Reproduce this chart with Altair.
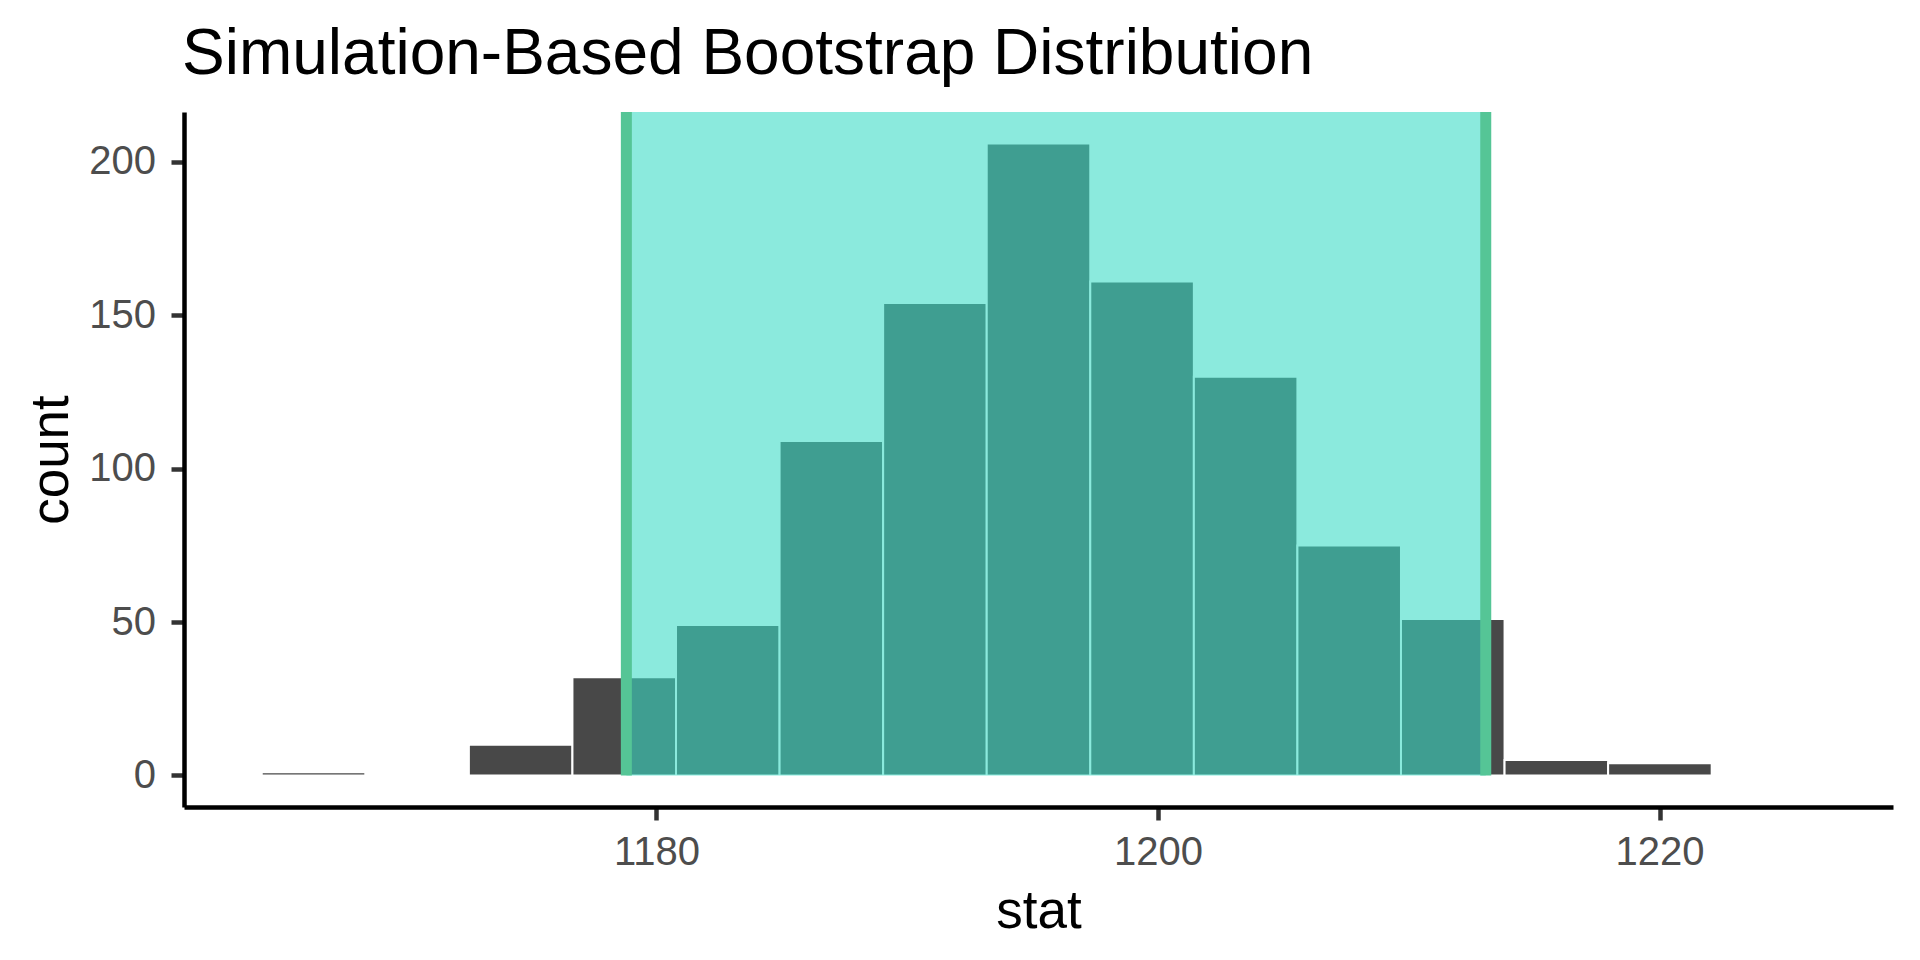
import altair as alt
import pandas as pd

# Histogram bins (stat) and counts
bin_start = [1164.26, 1168.39, 1172.52, 1176.65, 1180.78, 1184.91, 1189.04, 1193.17,
             1197.30, 1201.43, 1205.56, 1209.69, 1213.82, 1217.95, 1222.08]
bin_end = [1168.39, 1172.52, 1176.65, 1180.78, 1184.91, 1189.04, 1193.17, 1197.30,
           1201.43, 1205.56, 1209.69, 1213.82, 1217.95, 1222.08, 1226.21]
counts = [1, 0, 10, 32, 49, 109, 154, 206, 161, 130, 75, 51, 5, 4, 0]

# Confidence interval bounds
ci_bounds = [1178.80, 1213.07]

x_ticks = [1180, 1200, 1220]
y_ticks = [0, 50, 100, 150, 200]

title_text = "Simulation-Based Bootstrap Distribution"

hist_df = pd.DataFrame({"start": bin_start, "end": bin_end, "count": counts})
ci_df = pd.DataFrame({"lower": [ci_bounds[0]], "upper": [ci_bounds[1]]})
ci_lines = pd.DataFrame({"bound": ci_bounds})

FONT = "Liberation Sans"
W, H = 1709, 695

xscale = alt.Scale(domain=[1161.16, 1229.31], nice=False, zero=False)
yscale = alt.Scale(domain=[-10.3, 216.3], nice=False, zero=False)

xaxis = alt.Axis(
    values=x_ticks, format="d", grid=False,
    domainColor="black", domainWidth=4.5,
    tickColor="#333333", tickWidth=4.5, tickSize=13,
    labelFont=FONT, labelFontSize=40, labelColor="#4D4D4D",
    labelBaseline="alphabetic", labelPadding=44.5, labelFlush=False,
    titleFont=FONT, titleFontSize=53, titleColor="black", titleFontWeight="normal",
    titleBaseline="alphabetic", titleX=W / 2, titleY=120, titleAlign="center",
)
yaxis = alt.Axis(
    values=y_ticks, format="d", grid=False,
    domainColor="black", domainWidth=4.5,
    tickColor="#333333", tickWidth=4.5, tickSize=13,
    labelFont=FONT, labelFontSize=40, labelColor="#4D4D4D",
    labelBaseline="middle", labelAlign="right", labelPadding=15.5, labelFlush=False,
    titleFont=FONT, titleFontSize=53, titleColor="black", titleFontWeight="normal",
    titleAngle=270, titleBaseline="alphabetic", titleAlign="center",
    titleX=-117, titleY=H / 2,
)

bars = alt.Chart(hist_df).mark_rect(
    fill="#484848", stroke="white", strokeWidth=2
).encode(
    x=alt.X("start:Q", scale=xscale, axis=xaxis, title="stat"),
    x2="end:Q",
    y=alt.Y("count:Q", scale=yscale, axis=yaxis, title="count"),
    y2=alt.datum(0),
)

shade = alt.Chart(ci_df).mark_rect(fill="#3ADBC5", opacity=0.59).encode(
    x=alt.X("lower:Q", title="stat"),
    x2="upper:Q",
    y=alt.datum(0),
    y2=alt.value(0),
)

rules = alt.Chart(ci_lines).mark_rule(color="#55C596", strokeWidth=11).encode(
    x=alt.X("bound:Q", title="stat"),
    y=alt.datum(0),
    y2=alt.value(0),
)

chart = alt.layer(bars, shade, rules).properties(
    width=W,
    height=H,
    background="white",
    title=alt.TitleParams(
        title_text, anchor="start", fontSize=64, font=FONT, fontWeight="normal",
        color="black", baseline="alphabetic", offset=36, dy=67, dx=157,
    ),
    autosize=alt.AutoSizeParams(type="none"),
    padding={"left": 176, "top": 104, "right": 10, "bottom": 140},
).configure_view(stroke=None)

chart.save("out.html", embed_options={"renderer": "svg", "actions": False})
